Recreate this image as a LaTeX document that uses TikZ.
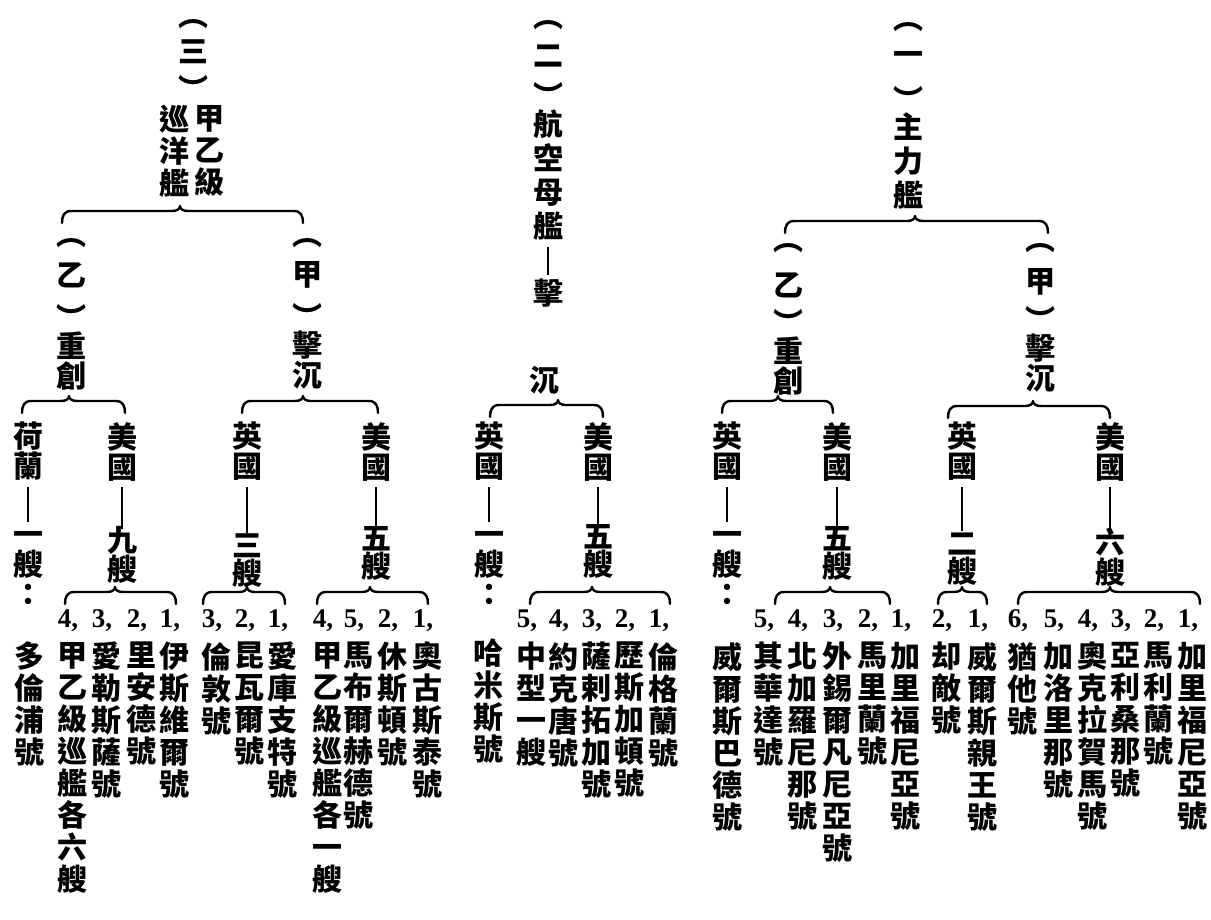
\documentclass[tikz,border=0pt]{standalone}
\usepackage{fontspec}
\newfontfamily\cjk{Noto Sans CJK TC}
\newfontfamily\numfont{Liberation Serif}
\usetikzlibrary{calc}

% full-height first line for columns that start with a flat sign
\newcommand\vs{\rule{0pt}{26.4pt}}

% horizontal brace: left end, tip reference, right end
\newcommand\hbrace[3]{%
  \coordinate (bL) at (#1);
  \coordinate (bX) at (#2);
  \coordinate (bR) at (#3);
  \coordinate (bT) at ($(bL -| bX)+(0,12)$);
  \draw[bracepen] (bL) .. controls +(0,7) and +(-7,0) .. ($(bL)+(9,12)$)
    -- ($(bT)+(-8,0)$) .. controls +(5,0) and +(0,-3) .. ($(bT)+(0,5)$)
    .. controls +(0,-3) and +(-5,0) .. ($(bT)+(8,0)$)
    -- ($(bR)+(-9,12)$) .. controls +(7,0) and +(0,7) .. (bR);}

% one ship: number above a vertical name
\newcommand\shipcol[4]{%
  \node[num] (#1n) at (#2-4,-627) {#3,};
  \node[ship] (#1) at (#2,-642) {#4};}

\begin{document}
\begin{tikzpicture}[
    x=1pt, y=1pt,
    lab/.style={font=\cjk\bfseries\fontsize{30}{30}\selectfont, align=center,
                inner sep=0pt, anchor=north},
    cnt/.style={lab, font=\cjk\bfseries\fontsize{30}{28}\selectfont},
    ttl/.style={lab, font=\cjk\bfseries\fontsize{30}{34}\selectfont},
    ship/.style={lab, font=\cjk\bfseries\fontsize{30}{32}\selectfont},
    par/.style={font=\cjk\bfseries\fontsize{30}{30}\selectfont, inner sep=0pt},
    num/.style={font=\numfont\bfseries\fontsize{27}{27}\selectfont, inner sep=0pt, anchor=base},
    bracepen/.style={line width=2.4pt, line cap=round, line join=round},
    joinln/.style={line width=2.6pt, shorten <=6pt, shorten >=-3pt},
]
\fill[white] (0,0) rectangle (1211,-920);
\useasboundingbox (0,0) rectangle (1211,-920);

% ---------------- (三) 甲乙級巡洋艦
\node[par] (h3o) at (193,-24) {︵};
\node[par] (h3n) at (193,-52) {三};
\node[par] (h3c) at (193,-88) {︶};
\node[ship] (t3r) at (209,-105) {甲\\乙\\級};
\node[ship] (t3l) at (174,-105) {巡\\洋\\艦};

\node[par] (p3yo) at (71,-243) {︵};
\node[par] (p3yn) at (71,-275) {乙};
\node[par] (p3yc) at (71,-317) {︶};
\node[lab] (s3y) at (71,-332) {重\\創};
\node[par] (p3jo) at (307,-243) {︵};
\node[par] (p3jn) at (307,-275) {甲};
\node[par] (p3jc) at (307,-316) {︶};
\node[lab] (s3j) at (307,-331) {擊\\沉};
\hbrace{[xshift=-9pt,yshift=20pt]p3yo.center}{[xshift=6pt]t3l.south}{[xshift=-4pt,yshift=20pt]p3jo.center}

% (乙) 重創
\node[lab] (c3yH) at (28,-422) {荷\\蘭};
\node[lab] (c3yHn) at (28,-519) {\vs 一\\艘\\：};
\node[ship] (s3yH) at (29,-642) {多\\倫\\浦\\號};
\node[lab] (c3yM) at (122,-422) {美\\國};
\node[cnt] (c3yMn) at (122,-526) {九\\艘};
\draw[joinln] (c3yH) -- (c3yHn);
\draw[joinln] (c3yM) -- (c3yMn);
\hbrace{[xshift=-6pt,yshift=9pt]c3yH.north}{[xshift=-2pt]s3y.south}{[xshift=3pt,yshift=9pt]c3yM.north}
\shipcol{s3m4}{72}{4}{甲\\乙\\級\\巡\\艦\\各\\六\\艘}
\shipcol{s3m3}{106}{3}{愛\\勒\\斯\\薩\\號}
\shipcol{s3m2}{141}{2}{里\\安\\德\\號}
\shipcol{s3m1}{174}{1}{伊\\斯\\維\\爾\\號}
\hbrace{[xshift=-3pt,yshift=23pt]s3m4n.base}{[xshift=-7pt]c3yMn.south}{[xshift=6pt,yshift=23pt]s3m1n.base}

% (甲) 擊沉
\node[lab] (c3jE) at (247,-422) {英\\國};
\node[cnt] (c3jEn) at (247,-530) {\vs 三\\艘};
\node[lab] (c3jM) at (376,-422) {美\\國};
\node[cnt] (c3jMn) at (376,-526) {五\\艘};
\draw[joinln] (c3jE) -- (c3jEn);
\draw[joinln] (c3jM) -- (c3jMn);
\hbrace{[xshift=-5pt,yshift=9pt]c3jE.north}{[xshift=-4pt]s3j.south}{[xshift=2pt,yshift=9pt]c3jM.north}
\shipcol{e3j3}{216}{3}{倫\\敦\\號}
\shipcol{e3j2}{249}{2}{昆\\瓦\\爾\\號}
\shipcol{e3j1}{282}{1}{愛\\庫\\支\\特\\號}
\hbrace{[xshift=-9pt,yshift=23pt]e3j3n.base}{c3jEn.south}{[xshift=7pt,yshift=23pt]e3j1n.base}
\shipcol{m3j4}{327}{4}{甲\\乙\\級\\巡\\艦\\各\\一\\艘}
\shipcol{m3j5}{358}{5}{馬\\布\\爾\\赫\\德\\號}
\shipcol{m3j2}{392}{2}{休\\斯\\頓\\號}
\shipcol{m3j1}{427}{1}{奧\\古\\斯\\泰\\號}
\hbrace{[xshift=-6pt,yshift=23pt]m3j4n.base}{[xshift=-6pt]c3jMn.south}{[xshift=5pt,yshift=23pt]m3j1n.base}

% ---------------- (二) 航空母艦
\node[par] (h2o) at (548,-25) {︵};
\node[par] (h2n) at (548,-56) {二};
\node[par] (h2c) at (548,-95) {︶};
\node[ttl] (t2) at (548,-110) {航\\空\\母\\艦};
\node[lab] (t2a) at (548,-279) {擊};
\node[lab] (t2b) at (544,-366) {沉};
\draw[joinln, shorten >=4pt] (t2) -- (t2a);

\node[lab] (c2E) at (489,-422) {英\\國};
\node[lab] (c2En) at (489,-519) {\vs 一\\艘\\：};
\node[ship] (s2E) at (488,-639) {哈\\米\\斯\\號};
\node[lab] (c2M) at (598,-422) {美\\國};
\node[cnt] (c2Mn) at (598,-524) {五\\艘};
\draw[joinln] (c2E) -- (c2En);
\draw[joinln] (c2M) -- (c2Mn);
\hbrace{[xshift=1pt,yshift=5pt]c2E.north}{[xshift=14pt]t2b.south}{[xshift=5pt,yshift=5pt]c2M.north}
\shipcol{m2a5}{531}{5}{中\\型\\一\\艘}
\shipcol{m2a4}{563}{4}{約\\克\\唐\\號}
\shipcol{m2a3}{596}{3}{薩\\剌\\拓\\加\\號}
\shipcol{m2a2}{629}{2}{歷\\斯\\加\\頓\\號}
\shipcol{m2a1}{663}{1}{倫\\格\\蘭\\號}
\hbrace{[xshift=3pt,yshift=23pt]m2a5n.base}{[xshift=-6pt]c2Mn.south}{[xshift=11pt,yshift=23pt]m2a1n.base}

% ---------------- (一) 主力艦
\node[par] (h1o) at (908,-27) {︵};
\node[par] (h1n) at (908,-58) {一};
\node[par] (h1c) at (908,-99) {︶};
\node[ttl] (t1) at (908,-113) {主\\力\\艦};

\node[par] (p1yo) at (788,-248) {︵};
\node[par] (p1yn) at (788,-285) {乙};
\node[par] (p1yc) at (788,-322) {︶};
\node[lab] (s1y) at (788,-337) {重\\創};
\node[par] (p1jo) at (1040,-248) {︵};
\node[par] (p1jn) at (1040,-282) {甲};
\node[par] (p1jc) at (1040,-319) {︶};
\node[lab] (s1j) at (1040,-334) {擊\\沉};
\hbrace{[xshift=-3pt,yshift=15pt]p1yo.center}{[xshift=7pt]t1.south}{[xshift=8pt,yshift=15pt]p1jo.center}

% (乙) 重創
\node[lab] (c1yE) at (727,-422) {英\\國};
\node[lab] (c1yEn) at (727,-519) {\vs 一\\艘\\：};
\node[ship] (s1yE) at (727,-642) {威\\爾\\斯\\巴\\德\\號};
\node[lab] (c1yM) at (837,-422) {美\\國};
\node[cnt] (c1yMn) at (837,-526) {五\\艘};
\draw[joinln] (c1yE) -- (c1yEn);
\draw[joinln] (c1yM) -- (c1yMn);
\hbrace{[xshift=-5pt,yshift=9pt]c1yE.north}{[xshift=-10pt]s1y.south}{[xshift=-4pt,yshift=9pt]c1yM.north}
\shipcol{m1y5}{768}{5}{其\\華\\達\\號}
\shipcol{m1y4}{802}{4}{北\\加\\羅\\尼\\那\\號}
\shipcol{m1y3}{837}{3}{外\\錫\\爾\\凡\\尼\\亞\\號}
\shipcol{m1y2}{872}{2}{馬\\里\\蘭\\號}
\shipcol{m1y1}{905}{1}{加\\里\\福\\尼\\亞\\號}
\hbrace{[xshift=11pt,yshift=23pt]m1y5n.base}{[xshift=-7pt]c1yMn.south}{[xshift=22pt,yshift=23pt]m1y2n.base}

% (甲) 擊沉
\node[lab] (c1jE) at (962,-422) {英\\國};
\node[cnt] (c1jEn) at (962,-528) {\vs 二\\艘};
\node[lab] (c1jM) at (1110,-422) {美\\國};
\node[cnt] (c1jMn) at (1110,-528) {六\\艘};
\draw[joinln] (c1jE) -- (c1jEn);
\draw[joinln] (c1jM) -- (c1jMn);
\hbrace{[xshift=-14pt,yshift=4pt]c1jE.north}{[xshift=-7pt]s1j.south}{[yshift=4pt]c1jM.north}
\shipcol{e1j2}{946}{2}{却\\敵\\號}
\shipcol{e1j1}{982}{1}{威\\爾\\斯\\親\\王\\號}
\hbrace{[xshift=-4pt,yshift=23pt]e1j2n.base}{c1jEn.south}{[xshift=9pt,yshift=23pt]e1j1n.base}
\shipcol{m1j6}{1022}{6}{猶\\他\\號}
\shipcol{m1j5}{1058}{5}{加\\洛\\里\\那\\號}
\shipcol{m1j4}{1092}{4}{奧\\克\\拉\\賀\\馬\\號}
\shipcol{m1j3}{1125}{3}{亞\\利\\桑\\那\\號}
\shipcol{m1j2}{1158}{2}{馬\\利\\蘭\\號}
\shipcol{m1j1}{1192}{1}{加\\里\\福\\尼\\亞\\號}
\hbrace{[yshift=23pt]m1j6n.base}{c1jMn.south}{[xshift=12pt,yshift=23pt]m1j1n.base}

\end{tikzpicture}
\end{document}
